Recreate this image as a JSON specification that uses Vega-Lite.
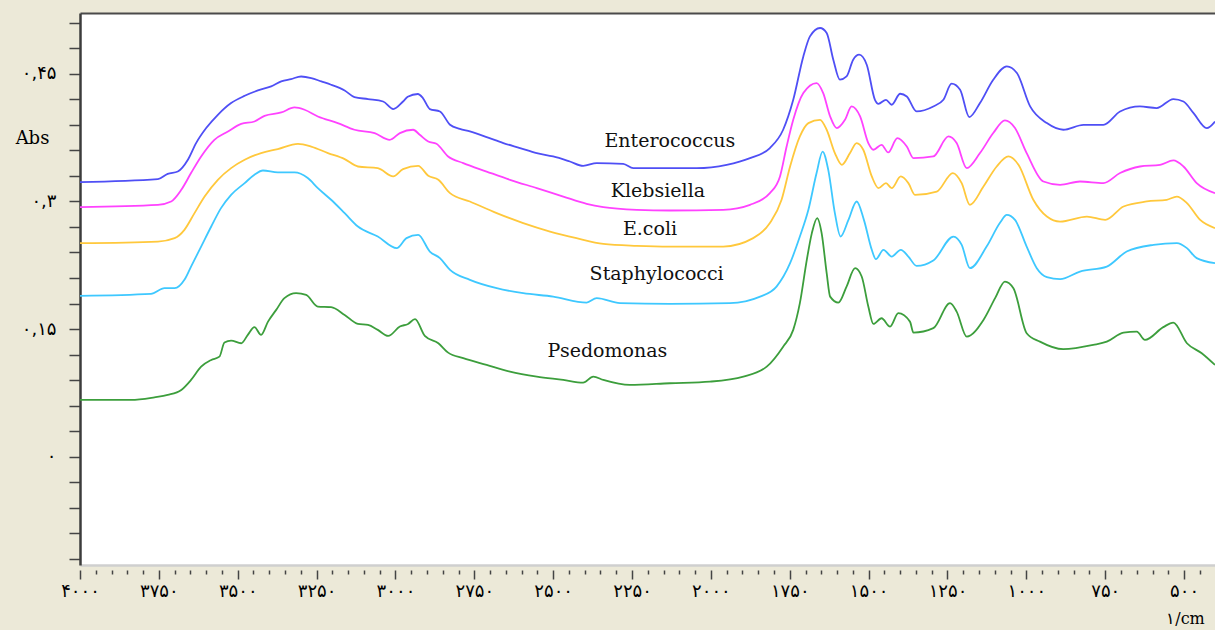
{
"$schema": "https://vega.github.io/schema/vega-lite/v6.json",
"width": 1135, "height": 552,
"autosize": {"type": "none"},
"padding": {"left": 80, "top": 13, "right": 0, "bottom": 65},
"background": "#ece9d8",
"config": {"view": {"fill": "#ffffff", "stroke": null}},
"datasets": {
"spectra": [
{"g":"Enterococcus","w":4000,"a":0.3227},{"g":"Enterococcus","w":3753,"a":0.3262},{"g":"Enterococcus","w":3722,"a":0.3324},{"g":"Enterococcus","w":3690,"a":0.3351},{"g":"Enterococcus","w":3658,"a":0.3489},{"g":"Enterococcus","w":3632,"a":0.3685},{"g":"Enterococcus","w":3600,"a":0.3862},{"g":"Enterococcus","w":3563,"a":0.4018},{"g":"Enterococcus","w":3521,"a":0.4156},{"g":"Enterococcus","w":3478,"a":0.4241},{"g":"Enterococcus","w":3436,"a":0.4304},{"g":"Enterococcus","w":3394,"a":0.4351},{"g":"Enterococcus","w":3362,"a":0.4410},{"g":"Enterococcus","w":3331,"a":0.4438},{"g":"Enterococcus","w":3299,"a":0.4468},{"g":"Enterococcus","w":3267,"a":0.4450},{"g":"Enterococcus","w":3235,"a":0.4410},{"g":"Enterococcus","w":3204,"a":0.4371},{"g":"Enterococcus","w":3161,"a":0.4304},{"g":"Enterococcus","w":3130,"a":0.4226},{"g":"Enterococcus","w":3087,"a":0.4203},{"g":"Enterococcus","w":3039,"a":0.4174},{"g":"Enterococcus","w":3007,"a":0.4085},{"g":"Enterococcus","w":2976,"a":0.4174},{"g":"Enterococcus","w":2961,"a":0.4230},{"g":"Enterococcus","w":2929,"a":0.4262},{"g":"Enterococcus","w":2913,"a":0.4214},{"g":"Enterococcus","w":2891,"a":0.4085},{"g":"Enterococcus","w":2859,"a":0.4057},{"g":"Enterococcus","w":2827,"a":0.3901},{"g":"Enterococcus","w":2796,"a":0.3853},{"g":"Enterococcus","w":2764,"a":0.3822},{"g":"Enterococcus","w":2711,"a":0.3756},{"g":"Enterococcus","w":2658,"a":0.3685},{"g":"Enterococcus","w":2605,"a":0.3627},{"g":"Enterococcus","w":2552,"a":0.3568},{"g":"Enterococcus","w":2500,"a":0.3528},{"g":"Enterococcus","w":2447,"a":0.3469},{"g":"Enterococcus","w":2405,"a":0.3418},{"g":"Enterococcus","w":2362,"a":0.3450},{"g":"Enterococcus","w":2278,"a":0.3442},{"g":"Enterococcus","w":2246,"a":0.3391},{"g":"Enterococcus","w":2130,"a":0.3391},{"g":"Enterococcus","w":2045,"a":0.3391},{"g":"Enterococcus","w":1950,"a":0.3430},{"g":"Enterococcus","w":1876,"a":0.3509},{"g":"Enterococcus","w":1813,"a":0.3627},{"g":"Enterococcus","w":1771,"a":0.3842},{"g":"Enterococcus","w":1739,"a":0.4194},{"g":"Enterococcus","w":1707,"a":0.4704},{"g":"Enterococcus","w":1686,"a":0.4939},{"g":"Enterococcus","w":1654,"a":0.5038},{"g":"Enterococcus","w":1633,"a":0.4979},{"g":"Enterococcus","w":1612,"a":0.4665},{"g":"Enterococcus","w":1591,"a":0.4430},{"g":"Enterococcus","w":1570,"a":0.4468},{"g":"Enterococcus","w":1549,"a":0.4665},{"g":"Enterococcus","w":1530,"a":0.4724},{"g":"Enterococcus","w":1506,"a":0.4606},{"g":"Enterococcus","w":1480,"a":0.4194},{"g":"Enterococcus","w":1469,"a":0.4147},{"g":"Enterococcus","w":1445,"a":0.4194},{"g":"Enterococcus","w":1427,"a":0.4136},{"g":"Enterococcus","w":1400,"a":0.4265},{"g":"Enterococcus","w":1379,"a":0.4233},{"g":"Enterococcus","w":1348,"a":0.4057},{"g":"Enterococcus","w":1295,"a":0.4116},{"g":"Enterococcus","w":1263,"a":0.4194},{"g":"Enterococcus","w":1237,"a":0.4383},{"g":"Enterococcus","w":1210,"a":0.4312},{"g":"Enterococcus","w":1181,"a":0.3991},{"g":"Enterococcus","w":1147,"a":0.4156},{"g":"Enterococcus","w":1105,"a":0.4430},{"g":"Enterococcus","w":1062,"a":0.4586},{"g":"Enterococcus","w":1030,"a":0.4508},{"g":"Enterococcus","w":988,"a":0.4116},{"g":"Enterococcus","w":935,"a":0.3920},{"g":"Enterococcus","w":883,"a":0.3842},{"g":"Enterococcus","w":819,"a":0.3900},{"g":"Enterococcus","w":756,"a":0.3900},{"g":"Enterococcus","w":703,"a":0.4057},{"g":"Enterococcus","w":640,"a":0.4116},{"g":"Enterococcus","w":587,"a":0.4097},{"g":"Enterococcus","w":534,"a":0.4203},{"g":"Enterococcus","w":502,"a":0.4174},{"g":"Enterococcus","w":470,"a":0.4038},{"g":"Enterococcus","w":428,"a":0.3862},{"g":"Enterococcus","w":402,"a":0.3939},
{"g":"Klebsiella","w":4000,"a":0.2933},{"g":"Klebsiella","w":3753,"a":0.2960},{"g":"Klebsiella","w":3711,"a":0.2999},{"g":"Klebsiella","w":3679,"a":0.3136},{"g":"Klebsiella","w":3648,"a":0.3333},{"g":"Klebsiella","w":3616,"a":0.3528},{"g":"Klebsiella","w":3574,"a":0.3724},{"g":"Klebsiella","w":3531,"a":0.3822},{"g":"Klebsiella","w":3489,"a":0.3912},{"g":"Klebsiella","w":3447,"a":0.3939},{"g":"Klebsiella","w":3415,"a":0.4006},{"g":"Klebsiella","w":3362,"a":0.4045},{"g":"Klebsiella","w":3320,"a":0.4104},{"g":"Klebsiella","w":3288,"a":0.4077},{"g":"Klebsiella","w":3246,"a":0.3998},{"g":"Klebsiella","w":3183,"a":0.3920},{"g":"Klebsiella","w":3130,"a":0.3842},{"g":"Klebsiella","w":3066,"a":0.3803},{"g":"Klebsiella","w":3018,"a":0.3724},{"g":"Klebsiella","w":2986,"a":0.3803},{"g":"Klebsiella","w":2944,"a":0.3842},{"g":"Klebsiella","w":2923,"a":0.3783},{"g":"Klebsiella","w":2896,"a":0.3704},{"g":"Klebsiella","w":2870,"a":0.3677},{"g":"Klebsiella","w":2833,"a":0.3528},{"g":"Klebsiella","w":2785,"a":0.3450},{"g":"Klebsiella","w":2711,"a":0.3351},{"g":"Klebsiella","w":2637,"a":0.3254},{"g":"Klebsiella","w":2552,"a":0.3156},{"g":"Klebsiella","w":2468,"a":0.3057},{"g":"Klebsiella","w":2394,"a":0.2972},{"g":"Klebsiella","w":2341,"a":0.2933},{"g":"Klebsiella","w":2235,"a":0.2901},{"g":"Klebsiella","w":2130,"a":0.2893},{"g":"Klebsiella","w":1961,"a":0.2901},{"g":"Klebsiella","w":1876,"a":0.2960},{"g":"Klebsiella","w":1813,"a":0.3097},{"g":"Klebsiella","w":1781,"a":0.3293},{"g":"Klebsiella","w":1760,"a":0.3645},{"g":"Klebsiella","w":1739,"a":0.3959},{"g":"Klebsiella","w":1707,"a":0.4273},{"g":"Klebsiella","w":1665,"a":0.4391},{"g":"Klebsiella","w":1644,"a":0.4273},{"g":"Klebsiella","w":1622,"a":0.3998},{"g":"Klebsiella","w":1601,"a":0.3862},{"g":"Klebsiella","w":1575,"a":0.3959},{"g":"Klebsiella","w":1554,"a":0.4116},{"g":"Klebsiella","w":1527,"a":0.3998},{"g":"Klebsiella","w":1501,"a":0.3685},{"g":"Klebsiella","w":1485,"a":0.3607},{"g":"Klebsiella","w":1459,"a":0.3665},{"g":"Klebsiella","w":1438,"a":0.3575},{"g":"Klebsiella","w":1409,"a":0.3744},{"g":"Klebsiella","w":1379,"a":0.3645},{"g":"Klebsiella","w":1358,"a":0.3509},{"g":"Klebsiella","w":1295,"a":0.3528},{"g":"Klebsiella","w":1247,"a":0.3763},{"g":"Klebsiella","w":1221,"a":0.3685},{"g":"Klebsiella","w":1189,"a":0.3391},{"g":"Klebsiella","w":1147,"a":0.3568},{"g":"Klebsiella","w":1105,"a":0.3803},{"g":"Klebsiella","w":1068,"a":0.3951},{"g":"Klebsiella","w":1036,"a":0.3862},{"g":"Klebsiella","w":999,"a":0.3568},{"g":"Klebsiella","w":946,"a":0.3234},{"g":"Klebsiella","w":893,"a":0.3195},{"g":"Klebsiella","w":830,"a":0.3234},{"g":"Klebsiella","w":756,"a":0.3215},{"g":"Klebsiella","w":703,"a":0.3333},{"g":"Klebsiella","w":640,"a":0.3410},{"g":"Klebsiella","w":576,"a":0.3430},{"g":"Klebsiella","w":534,"a":0.3481},{"g":"Klebsiella","w":502,"a":0.3410},{"g":"Klebsiella","w":460,"a":0.3215},{"g":"Klebsiella","w":402,"a":0.3097},
{"g":"E.coli","w":4000,"a":0.2509},{"g":"E.coli","w":3753,"a":0.2528},{"g":"E.coli","w":3700,"a":0.2568},{"g":"E.coli","w":3669,"a":0.2666},{"g":"E.coli","w":3637,"a":0.2862},{"g":"E.coli","w":3605,"a":0.3057},{"g":"E.coli","w":3563,"a":0.3254},{"g":"E.coli","w":3521,"a":0.3391},{"g":"E.coli","w":3478,"a":0.3489},{"g":"E.coli","w":3426,"a":0.3568},{"g":"E.coli","w":3373,"a":0.3615},{"g":"E.coli","w":3309,"a":0.3677},{"g":"E.coli","w":3267,"a":0.3645},{"g":"E.coli","w":3214,"a":0.3568},{"g":"E.coli","w":3161,"a":0.3497},{"g":"E.coli","w":3119,"a":0.3410},{"g":"E.coli","w":3056,"a":0.3391},{"g":"E.coli","w":3007,"a":0.3293},{"g":"E.coli","w":2976,"a":0.3380},{"g":"E.coli","w":2928,"a":0.3418},{"g":"E.coli","w":2896,"a":0.3301},{"g":"E.coli","w":2864,"a":0.3254},{"g":"E.coli","w":2827,"a":0.3097},{"g":"E.coli","w":2764,"a":0.2999},{"g":"E.coli","w":2679,"a":0.2862},{"g":"E.coli","w":2595,"a":0.2745},{"g":"E.coli","w":2510,"a":0.2646},{"g":"E.coli","w":2426,"a":0.2568},{"g":"E.coli","w":2341,"a":0.2501},{"g":"E.coli","w":2235,"a":0.2478},{"g":"E.coli","w":2130,"a":0.2469},{"g":"E.coli","w":1961,"a":0.2469},{"g":"E.coli","w":1866,"a":0.2568},{"g":"E.coli","w":1813,"a":0.2745},{"g":"E.coli","w":1776,"a":0.3019},{"g":"E.coli","w":1749,"a":0.3410},{"g":"E.coli","w":1718,"a":0.3763},{"g":"E.coli","w":1691,"a":0.3920},{"g":"E.coli","w":1654,"a":0.3959},{"g":"E.coli","w":1633,"a":0.3842},{"g":"E.coli","w":1607,"a":0.3568},{"g":"E.coli","w":1585,"a":0.3430},{"g":"E.coli","w":1559,"a":0.3568},{"g":"E.coli","w":1538,"a":0.3685},{"g":"E.coli","w":1517,"a":0.3607},{"g":"E.coli","w":1490,"a":0.3293},{"g":"E.coli","w":1469,"a":0.3156},{"g":"E.coli","w":1445,"a":0.3215},{"g":"E.coli","w":1427,"a":0.3156},{"g":"E.coli","w":1398,"a":0.3293},{"g":"E.coli","w":1374,"a":0.3215},{"g":"E.coli","w":1353,"a":0.3077},{"g":"E.coli","w":1284,"a":0.3116},{"g":"E.coli","w":1233,"a":0.3333},{"g":"E.coli","w":1205,"a":0.3215},{"g":"E.coli","w":1179,"a":0.2960},{"g":"E.coli","w":1136,"a":0.3175},{"g":"E.coli","w":1094,"a":0.3410},{"g":"E.coli","w":1057,"a":0.3528},{"g":"E.coli","w":1025,"a":0.3430},{"g":"E.coli","w":978,"a":0.3019},{"g":"E.coli","w":935,"a":0.2822},{"g":"E.coli","w":893,"a":0.2763},{"g":"E.coli","w":808,"a":0.2822},{"g":"E.coli","w":750,"a":0.2783},{"g":"E.coli","w":692,"a":0.2940},{"g":"E.coli","w":618,"a":0.2999},{"g":"E.coli","w":555,"a":0.3019},{"g":"E.coli","w":523,"a":0.3057},{"g":"E.coli","w":491,"a":0.2980},{"g":"E.coli","w":449,"a":0.2783},{"g":"E.coli","w":402,"a":0.2686},
{"g":"Staphylococci","w":4000,"a":0.1890},{"g":"Staphylococci","w":3775,"a":0.1913},{"g":"Staphylococci","w":3732,"a":0.1980},{"g":"Staphylococci","w":3700,"a":0.1980},{"g":"Staphylococci","w":3669,"a":0.2078},{"g":"Staphylococci","w":3648,"a":0.2234},{"g":"Staphylococci","w":3616,"a":0.2469},{"g":"Staphylococci","w":3584,"a":0.2705},{"g":"Staphylococci","w":3553,"a":0.2921},{"g":"Staphylococci","w":3521,"a":0.3077},{"g":"Staphylococci","w":3478,"a":0.3215},{"g":"Staphylococci","w":3447,"a":0.3313},{"g":"Staphylococci","w":3420,"a":0.3363},{"g":"Staphylococci","w":3373,"a":0.3340},{"g":"Staphylococci","w":3320,"a":0.3340},{"g":"Staphylococci","w":3278,"a":0.3274},{"g":"Staphylococci","w":3246,"a":0.3156},{"g":"Staphylococci","w":3204,"a":0.3019},{"g":"Staphylococci","w":3161,"a":0.2862},{"g":"Staphylococci","w":3119,"a":0.2705},{"g":"Staphylococci","w":3056,"a":0.2587},{"g":"Staphylococci","w":2996,"a":0.2451},{"g":"Staphylococci","w":2965,"a":0.2568},{"g":"Staphylococci","w":2928,"a":0.2607},{"g":"Staphylococci","w":2891,"a":0.2411},{"g":"Staphylococci","w":2859,"a":0.2333},{"g":"Staphylococci","w":2827,"a":0.2195},{"g":"Staphylococci","w":2764,"a":0.2078},{"g":"Staphylococci","w":2679,"a":0.1980},{"g":"Staphylococci","w":2595,"a":0.1921},{"g":"Staphylococci","w":2500,"a":0.1881},{"g":"Staphylococci","w":2394,"a":0.1811},{"g":"Staphylococci","w":2362,"a":0.1863},{"g":"Staphylococci","w":2288,"a":0.1804},{"g":"Staphylococci","w":2130,"a":0.1796},{"g":"Staphylococci","w":1940,"a":0.1804},{"g":"Staphylococci","w":1844,"a":0.1881},{"g":"Staphylococci","w":1792,"a":0.1999},{"g":"Staphylococci","w":1749,"a":0.2274},{"g":"Staphylococci","w":1718,"a":0.2587},{"g":"Staphylococci","w":1691,"a":0.2901},{"g":"Staphylococci","w":1665,"a":0.3333},{"g":"Staphylococci","w":1646,"a":0.3586},{"g":"Staphylococci","w":1628,"a":0.3371},{"g":"Staphylococci","w":1607,"a":0.2862},{"g":"Staphylococci","w":1589,"a":0.2587},{"g":"Staphylococci","w":1564,"a":0.2783},{"g":"Staphylococci","w":1538,"a":0.2999},{"g":"Staphylococci","w":1515,"a":0.2783},{"g":"Staphylococci","w":1490,"a":0.2431},{"g":"Staphylococci","w":1477,"a":0.2321},{"g":"Staphylococci","w":1453,"a":0.2431},{"g":"Staphylococci","w":1427,"a":0.2352},{"g":"Staphylococci","w":1398,"a":0.2431},{"g":"Staphylococci","w":1374,"a":0.2352},{"g":"Staphylococci","w":1348,"a":0.2242},{"g":"Staphylococci","w":1295,"a":0.2305},{"g":"Staphylococci","w":1231,"a":0.2587},{"g":"Staphylococci","w":1205,"a":0.2489},{"g":"Staphylococci","w":1179,"a":0.2215},{"g":"Staphylococci","w":1126,"a":0.2469},{"g":"Staphylococci","w":1083,"a":0.2752},{"g":"Staphylococci","w":1062,"a":0.2842},{"g":"Staphylococci","w":1036,"a":0.2783},{"g":"Staphylococci","w":999,"a":0.2469},{"g":"Staphylococci","w":967,"a":0.2215},{"g":"Staphylococci","w":935,"a":0.2110},{"g":"Staphylococci","w":893,"a":0.2086},{"g":"Staphylococci","w":830,"a":0.2175},{"g":"Staphylococci","w":745,"a":0.2234},{"g":"Staphylococci","w":682,"a":0.2411},{"g":"Staphylococci","w":597,"a":0.2489},{"g":"Staphylococci","w":523,"a":0.2509},{"g":"Staphylococci","w":491,"a":0.2451},{"g":"Staphylococci","w":460,"a":0.2333},{"g":"Staphylococci","w":402,"a":0.2274},
{"g":"Psedomonas","w":4000,"a":0.0667},{"g":"Psedomonas","w":3838,"a":0.0667},{"g":"Psedomonas","w":3764,"a":0.0698},{"g":"Psedomonas","w":3722,"a":0.0726},{"g":"Psedomonas","w":3679,"a":0.0784},{"g":"Psedomonas","w":3648,"a":0.0902},{"g":"Psedomonas","w":3616,"a":0.1058},{"g":"Psedomonas","w":3584,"a":0.1137},{"g":"Psedomonas","w":3558,"a":0.1176},{"g":"Psedomonas","w":3542,"a":0.1341},{"g":"Psedomonas","w":3521,"a":0.1364},{"g":"Psedomonas","w":3489,"a":0.1333},{"g":"Psedomonas","w":3468,"a":0.1431},{"g":"Psedomonas","w":3447,"a":0.1522},{"g":"Psedomonas","w":3426,"a":0.1431},{"g":"Psedomonas","w":3404,"a":0.1587},{"g":"Psedomonas","w":3378,"a":0.1725},{"g":"Psedomonas","w":3352,"a":0.1863},{"g":"Psedomonas","w":3315,"a":0.1921},{"g":"Psedomonas","w":3283,"a":0.1901},{"g":"Psedomonas","w":3246,"a":0.1764},{"g":"Psedomonas","w":3204,"a":0.1757},{"g":"Psedomonas","w":3161,"a":0.1666},{"g":"Psedomonas","w":3119,"a":0.1560},{"g":"Psedomonas","w":3087,"a":0.1549},{"g":"Psedomonas","w":3056,"a":0.1490},{"g":"Psedomonas","w":3023,"a":0.1419},{"g":"Psedomonas","w":2986,"a":0.1529},{"g":"Psedomonas","w":2960,"a":0.1560},{"g":"Psedomonas","w":2938,"a":0.1616},{"g":"Psedomonas","w":2907,"a":0.1419},{"g":"Psedomonas","w":2864,"a":0.1333},{"g":"Psedomonas","w":2833,"a":0.1223},{"g":"Psedomonas","w":2785,"a":0.1157},{"g":"Psedomonas","w":2711,"a":0.1078},{"g":"Psedomonas","w":2637,"a":0.1000},{"g":"Psedomonas","w":2552,"a":0.0941},{"g":"Psedomonas","w":2468,"a":0.0902},{"g":"Psedomonas","w":2405,"a":0.0870},{"g":"Psedomonas","w":2373,"a":0.0941},{"g":"Psedomonas","w":2341,"a":0.0902},{"g":"Psedomonas","w":2257,"a":0.0843},{"g":"Psedomonas","w":2130,"a":0.0863},{"g":"Psedomonas","w":2003,"a":0.0882},{"g":"Psedomonas","w":1897,"a":0.0941},{"g":"Psedomonas","w":1823,"a":0.1058},{"g":"Psedomonas","w":1771,"a":0.1293},{"g":"Psedomonas","w":1739,"a":0.1490},{"g":"Psedomonas","w":1718,"a":0.1804},{"g":"Psedomonas","w":1696,"a":0.2313},{"g":"Psedomonas","w":1680,"a":0.2627},{"g":"Psedomonas","w":1663,"a":0.2803},{"g":"Psedomonas","w":1649,"a":0.2627},{"g":"Psedomonas","w":1633,"a":0.2157},{"g":"Psedomonas","w":1622,"a":0.1881},{"g":"Psedomonas","w":1596,"a":0.1811},{"g":"Psedomonas","w":1570,"a":0.1999},{"g":"Psedomonas","w":1543,"a":0.2215},{"g":"Psedomonas","w":1522,"a":0.2117},{"g":"Psedomonas","w":1501,"a":0.1764},{"g":"Psedomonas","w":1485,"a":0.1560},{"g":"Psedomonas","w":1459,"a":0.1627},{"g":"Psedomonas","w":1432,"a":0.1529},{"g":"Psedomonas","w":1406,"a":0.1686},{"g":"Psedomonas","w":1369,"a":0.1587},{"g":"Psedomonas","w":1358,"a":0.1458},{"g":"Psedomonas","w":1295,"a":0.1510},{"g":"Psedomonas","w":1242,"a":0.1804},{"g":"Psedomonas","w":1221,"a":0.1705},{"g":"Psedomonas","w":1189,"a":0.1411},{"g":"Psedomonas","w":1136,"a":0.1607},{"g":"Psedomonas","w":1099,"a":0.1863},{"g":"Psedomonas","w":1068,"a":0.2058},{"g":"Psedomonas","w":1041,"a":0.1980},{"g":"Psedomonas","w":999,"a":0.1451},{"g":"Psedomonas","w":957,"a":0.1352},{"g":"Psedomonas","w":883,"a":0.1263},{"g":"Psedomonas","w":788,"a":0.1313},{"g":"Psedomonas","w":745,"a":0.1352},{"g":"Psedomonas","w":692,"a":0.1458},{"g":"Psedomonas","w":650,"a":0.1470},{"g":"Psedomonas","w":624,"a":0.1372},{"g":"Psedomonas","w":566,"a":0.1522},{"g":"Psedomonas","w":534,"a":0.1576},{"g":"Psedomonas","w":491,"a":0.1333},{"g":"Psedomonas","w":444,"a":0.1216},{"g":"Psedomonas","w":402,"a":0.1078}
],
"names": [
{"label":"Enterococcus","w":2130,"a":0.3712},
{"label":"Klebsiella","w":2168,"a":0.3124},
{"label":"E.coli","w":2193,"a":0.2677},
{"label":"Staphylococci","w":2172,"a":0.2147},
{"label":"Psedomonas","w":2328,"a":0.1243}
]
},
"layer": [
{
"data": {"name": "spectra"},
"mark": {"type": "line", "strokeWidth": 1.8, "interpolate": "monotone"},
"encoding": {
"x": {"field": "w", "type": "quantitative",
"scale": {"domain": [402, 4000], "reverse": true, "nice": false, "zero": false},
"axis": {"orient": "bottom", "offset": 5, "domain": false, "grid": false,
"values": [4000,3950,3900,3850,3800,3750,3700,3650,3600,3550,3500,3450,3400,3350,3300,3250,3200,3150,3100,3050,3000,2950,2900,2850,2800,2750,2700,2650,2600,2550,2500,2450,2400,2350,2300,2250,2200,2150,2100,2050,2000,1950,1900,1850,1800,1750,1700,1650,1600,1550,1500,1450,1400,1350,1300,1250,1200,1150,1100,1050,1000,950,900,850,800,750,700,650,600,550,500,450],
"format": "d",
"labelExpr": "datum.value % 250 === 0 ? replace(replace(replace(replace(replace(replace(replace(replace(replace(replace(datum.label,regexp('0','g'),'۰'),regexp('1','g'),'۱'),regexp('2','g'),'۲'),regexp('3','g'),'۳'),regexp('4','g'),'۴'),regexp('5','g'),'۵'),regexp('6','g'),'۶'),regexp('7','g'),'۷'),regexp('8','g'),'۸'),regexp('9','g'),'۹') : ''",
"tickSize": {"condition": {"test": "datum.value % 250 === 0", "value": 9}, "value": 4},
"tickColor": "#444444", "tickWidth": 1.5,
"labelFont": "DejaVu Sans", "labelFontSize": 18, "labelColor": "#000000", "labelPadding": 3,
"labelOverlap": false, "labelFlush": false, "labelBound": false,
"title": "۱/cm", "titleFont": "DejaVu Serif", "titleFontSize": 16, "titleFontWeight": "normal", "titleColor": "#000000",
"titleX": 1105, "titleY": 48, "titleAlign": "center", "titleBaseline": "middle", "titleAnchor": null}
},
"y": {"field": "a", "type": "quantitative",
"scale": {"domain": [-0.1273, 0.5214], "nice": false, "zero": false},
"axis": {"orient": "left", "grid": false,
"values": [-0.12,-0.09,-0.06,-0.03,0,0.03,0.06,0.09,0.12,0.15,0.18,0.21,0.24,0.27,0.3,0.33,0.36,0.39,0.42,0.45,0.48,0.51],
"labelExpr": "datum.value > 0.44 && datum.value < 0.46 ? '۰,۴۵' : datum.value > 0.29 && datum.value < 0.31 ? '۰,۳' : datum.value > 0.14 && datum.value < 0.16 ? '۰,۱۵' : (datum.value > -0.01 && datum.value < 0.01 ? '۰' : '')",
"domainColor": "#3c3c3c", "domainWidth": 2.5,
"tickColor": "#444444", "tickWidth": 1.5, "tickSize": 11,
"labelFont": "DejaVu Sans", "labelFontSize": 18, "labelColor": "#000000", "labelPadding": 13,
"labelOverlap": false, "labelFlush": false, "labelBound": false,
"title": "Abs", "titleFont": "DejaVu Serif", "titleFontSize": 18, "titleFontWeight": "normal", "titleColor": "#000000",
"titleAngle": 0, "titleX": -48, "titleY": 125, "titleAlign": "center", "titleBaseline": "middle", "titleAnchor": null}
},
"color": {"field": "g", "type": "nominal",
"scale": {"domain": ["Enterococcus","Klebsiella","E.coli","Staphylococci","Psedomonas"],
"range": ["#4f4ff5","#ff42ff","#ffc83c","#3ec8ff","#3c9e3c"]},
"legend": null}
}
},
{
"data": {"name": "names"},
"mark": {"type": "text", "font": "DejaVu Serif", "fontSize": 19, "color": "#111111", "align": "center", "baseline": "middle"},
"encoding": {
"x": {"field": "w", "type": "quantitative",
"axis": {"orient": "top", "domain": true, "domainColor": "#4a4a4a", "domainWidth": 2, "ticks": false, "labels": false, "title": null, "grid": false}},
"y": {"field": "a", "type": "quantitative", "axis": null},
"text": {"field": "label"}
}
},
{
"data": {"name": "names"},
"mark": {"type": "point", "opacity": 0},
"encoding": {
"x": {"field": "w", "type": "quantitative",
"axis": {"orient": "bottom", "domain": true, "domainColor": "#cfcfcf", "domainWidth": 2.5, "ticks": false, "labels": false, "title": null, "grid": false}},
"y": {"field": "a", "type": "quantitative", "axis": null}
}
}
],
"resolve": {"axis": {"x": "independent", "y": "independent"}}
}
